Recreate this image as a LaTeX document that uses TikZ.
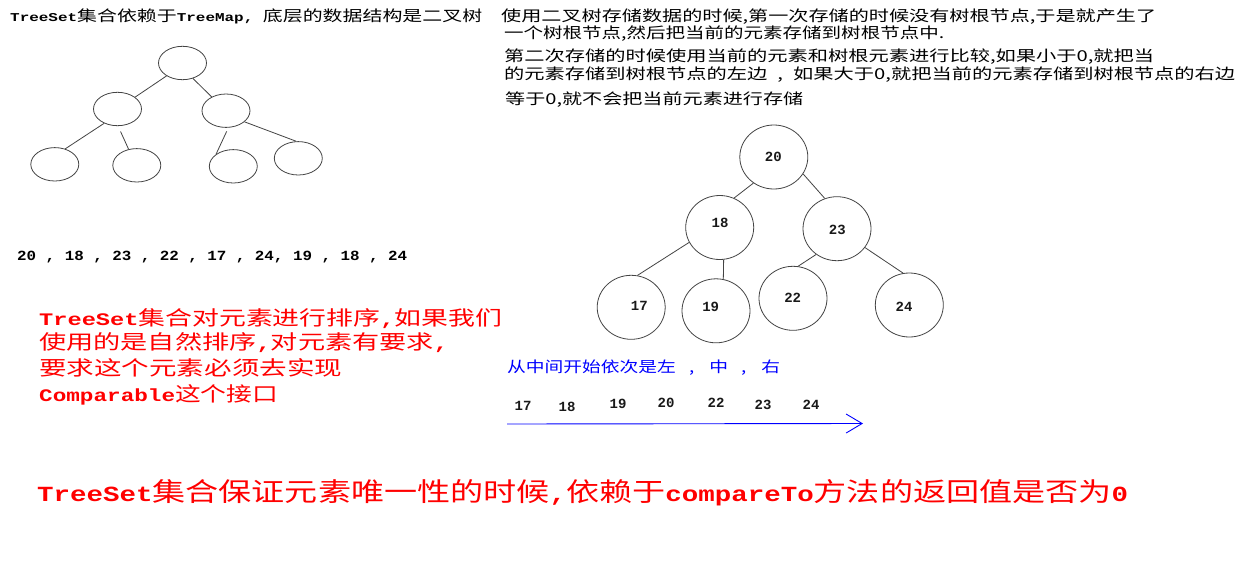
\documentclass[tikz,border=0pt]{standalone}
\usepackage{graphicx}
\usepackage{fontspec}
\usetikzlibrary{shapes.geometric,arrows.meta}
\setmainfont{Liberation Sans}
\newfontfamily\cjk{Noto Sans CJK SC}
\newfontfamily\mA[Scale=0.8]{Liberation Mono}
\newfontfamily\mB[Scale=0.88]{Liberation Mono}
\newfontfamily\mC[Scale=0.83]{Liberation Mono}
\newfontfamily\mono{Liberation Mono}
\newlength\fitwd
\newcommand\fitx[2]{\settowidth\fitwd{#2}\pgfmathsetmacro\fitr{#1/\fitwd}\scalebox{\fitr}[1]{#2}}
\newcommand\La[1]{{\mA\bfseries #1}}
\newcommand\Lb[1]{{\mB\bfseries #1}}
\newcommand\Lc[1]{{\mC\bfseries #1}}
\definecolor{edge}{HTML}{444444}
\tikzset{
  txt/.style={inner sep=0pt, anchor=west},
  lell/.style={ellipse, draw=edge, line width=0.8pt, minimum width=48pt, minimum height=33.4pt, inner sep=0pt},
  rell/.style={ellipse, draw=edge, line width=0.8pt, minimum width=68pt, minimum height=64pt, inner sep=0pt},
  conn/.style={draw=edge, line width=0.8pt},
  num/.style={inner sep=0pt, font=\mono\bfseries\fontsize{14}{16}\selectfont, text=black!90},
}
\begin{document}
\begin{tikzpicture}[x=1pt,y=-1pt]
\useasboundingbox (0,0) rectangle (1240,573);
\fill[white] (0,0) rectangle (1240,573);

% title
\node[txt] (title) at (10,16) {\cjk\fontsize{15}{18}\selectfont\fitx{472}{\La{TreeSet}集合依赖于\La{TreeMap, }底层的数据结构是二叉树}};

% left tree
\node[lell] (a) at (182.5,63) {};
\node[lell] (b) at (117.5,109) {};
\node[lell] (c) at (226,110.7) {};
\node[lell] (d) at (54.8,164.3) {};
\node[lell] (e) at (136.8,165.3) {};
\node[lell] (f) at (233.3,166.3) {};
\node[lell] (g) at (298.3,158.3) {};
\draw[conn] (a.219) -- (b.34);
\draw[conn] (a.304) -- (c.136);
\draw[conn] (b.227) -- (d.56);
\draw[conn, shorten <=6pt] (b.272) -- (e.117);
\draw[conn, shorten <=4pt] (c.278) -- (f.145);
\draw[conn] (c.329) -- (g.97);

% sequence
\node[txt] (seq) at (17,257) {\mono\bfseries\fontsize{14}{16}\selectfont\fitx{390}{20 , 18 , 23 , 22 , 17 , 24, 19 , 18 , 24}};

% right paragraph
\node[txt] (r1) at (501,17) {\cjk\fontsize{15}{18}\selectfont\fitx{655}{使用二叉树存储数据的时候,第一次存储的时候没有树根节点,于是就产生了}};
\node[txt] (r2) at (504,34) {\cjk\fontsize{15}{18}\selectfont\fitx{440}{一个树根节点,然后把当前的元素存储到树根节点中.}};
\node[txt] (r3) at (504,57) {\cjk\fontsize{15}{18}\selectfont\fitx{650}{第二次存储的时候使用当前的元素和树根元素进行比较,如果小于0,就把当}};
\node[txt] (r4) at (504,75) {\cjk\fontsize{15}{18}\selectfont\fitx{731}{的元素存储到树根节点的左边\hspace{0.5em},\hspace{0.5em}如果大于0,就把当前的元素存储到树根节点的右边}};
\node[txt] (r5) at (505,100) {\cjk\fontsize{15}{18}\selectfont\fitx{298}{等于0,就不会把当前元素进行存储}};

% right tree
\node[rell] (n20) at (773.8,157) {};
\node[rell] (n18) at (719.7,227.5) {};
\node[rell] (n23) at (837,228.7) {};
\node[rell] (n17) at (631.2,307.3) {};
\node[rell] (n19) at (716,310.8) {};
\node[rell] (n22) at (793,298.3) {};
\node[rell] (n24) at (909.3,305) {};
\node[num] (t20) at (773.3,156.7) {20};
\node[num] (t18) at (720,222.7) {18};
\node[num] (t23) at (837.3,230) {23};
\node[num] (t17) at (639.3,306) {17};
\node[num] (t19) at (710.7,306.7) {19};
\node[num] (t22) at (792.7,297.7) {22};
\node[num] (t24) at (904,307.3) {24};
\draw[conn] (n20.232) -- (n18.64);
\draw[conn] (n20.330) -- (n23.112);
\draw[conn] (n18.206) -- (n17.79);
\draw[conn] (n18.277) -- (n19.77);
\draw[conn] (n23.231) -- (n22.81);
\draw[conn] (n23.326) -- (n24.101);

% red block
\node[txt, text=red] (p1) at (39,319) {\cjk\fontsize{20}{24}\selectfont\fitx{463}{\Lb{TreeSet}集合对元素进行排序\Lb{,}如果我们}};
\node[txt, text=red] (p2) at (39,343) {\cjk\fontsize{20}{24}\selectfont\fitx{409}{使用的是自然排序\Lb{,}对元素有要求\Lb{,}}};
\node[txt, text=red] (p3) at (39,368) {\cjk\fontsize{20}{24}\selectfont\fitx{303}{要求这个元素必须去实现}};
\node[txt, text=red] (p4) at (39,395) {\cjk\fontsize{20}{24}\selectfont\fitx{239}{\Lb{Comparable}这个接口}};

% blue block
\node[txt, text=blue] (bl) at (507,368) {\cjk\fontsize{15}{18}\selectfont\fitx{273}{从中间开始依次是左\hspace{0.7em},\hspace{0.8em}中\hspace{0.7em},\hspace{0.8em}右}};
\node[num] (s17) at (523,406) {17};
\node[num] (s18) at (567,407) {18};
\node[num] (s19) at (618,404) {19};
\node[num] (s20) at (666,403) {20};
\node[num] (s22) at (716,403) {22};
\node[num] (s23) at (763,405) {23};
\node[num] (s24) at (811,405) {24};
\coordinate (as) at (507,424);
\coordinate (ae) at (863,423.5);
\draw[blue, line width=0.9pt, -{Straight Barb[length=16pt,width=19pt,line width=0.9pt]}] (as) -- (ae);

% bottom line
\node[txt, text=red] (bot) at (37,493) {\cjk\fontsize{26}{30}\selectfont\fitx{1091}{\Lc{TreeSet}集合保证元素唯一性的时候\Lc{,}依赖于\Lc{compareTo}方法的返回值是否为\Lc{0}}};
\end{tikzpicture}
\end{document}
